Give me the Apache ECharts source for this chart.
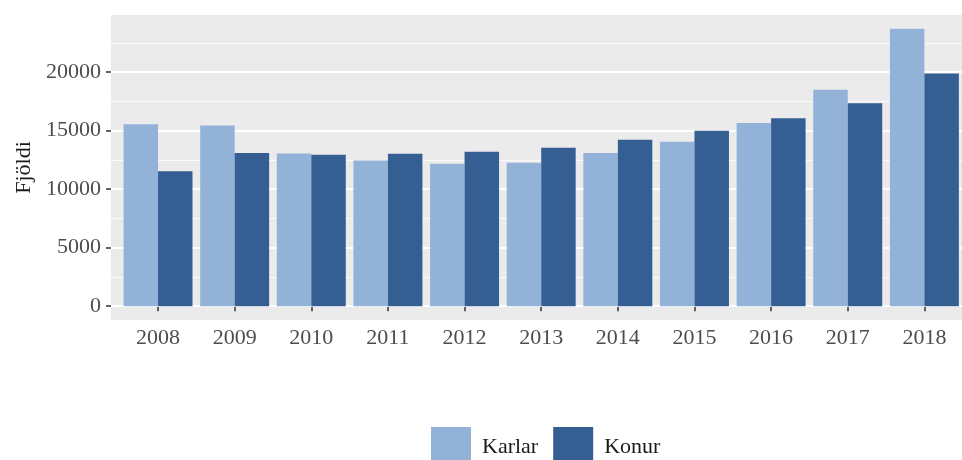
<!DOCTYPE html>
<html>
<head>
<meta charset="utf-8">
<script src="https://cdn.jsdelivr.net/npm/echarts@6/dist/echarts.min.js"></script>
<style>
  html, body { margin: 0; padding: 0; background: #fff; }
  #chart { width: 962px; height: 460px; }
</style>
</head>
<body>
<div id="chart"></div>
<script>
// gögn
const years = ["2008", "2009", "2010", "2011", "2012", "2013", "2014", "2015", "2016", "2017", "2018"];
const karlar = [15540, 15450, 13050, 12450, 12160, 12250, 13080, 14050, 15650, 18490, 23700];
const konur = [11540, 13080, 12940, 13020, 13190, 13540, 14220, 15000, 16050, 17340, 19890];
const yTicks = [0, 5000, 10000, 15000, 20000];

const yMax = Math.max(...karlar, ...konur);
const yMin = -0.05 * yMax;
const yTop = 1.05 * yMax;

const font = "Liberation Serif";
const lightBlue = "#93B2D8";
const darkBlue = "#355E92";
const chart = echarts.init(document.getElementById("chart"));

const options = {
  animation: false,
  legend: {
    data: ["Karlar", "Konur"],
    left: 431,
    top: 427,
    padding: 0,
    itemWidth: 40,
    itemHeight: 40,
    itemGap: 15,
    icon: "rect",
    textStyle: { fontFamily: font, fontSize: 22, color: "#1a1a1a", padding: [0, 0, 0, 6] }
  },
  grid: [
    // panel bakgrunnur + y-ás
    { left: 111, right: -9, top: 15, bottom: 140, show: true, backgroundColor: "#EBEBEB", borderWidth: 0, outerBoundsMode: "none" },
    // súlur
    { left: 119.7, width: 843, top: 15, bottom: 140, outerBoundsMode: "none" }
  ],
  xAxis: [
    { gridIndex: 0, type: "value", min: 0, max: 1, show: false },
    {
      gridIndex: 1,
      type: "category",
      data: years,
      axisLine: { show: false },
      axisTick: { show: true, alignWithLabel: true, length: 5, lineStyle: { color: "#333", width: 1.5 } },
      axisLabel: { fontFamily: font, fontSize: 22, color: "#4d4d4d", margin: 7 }
    }
  ],
  yAxis: [
    {
      gridIndex: 0,
      type: "value",
      min: yMin,
      max: yTop,
      name: "Fjöldi",
      nameLocation: "middle",
      nameGap: 75,
      nameRotate: 90,
      nameTextStyle: { fontFamily: font, fontSize: 22, color: "#1a1a1a" },
      axisLine: { show: false },
      axisTick: { show: true, length: 5, customValues: yTicks, lineStyle: { color: "#333", width: 1.5 } },
      axisLabel: {
        show: true,
        customValues: yTicks,
        margin: 10,
        formatter: v => String(v),
        fontFamily: font,
        fontSize: 22,
        color: "#4d4d4d"
      },
      splitLine: { show: false }
    },
    {
      gridIndex: 1,
      type: "value",
      min: yMin,
      max: yTop,
      show: false
    }
  ],
  series: [
    // stórar hnitalínur
    {
      type: "line",
      xAxisIndex: 0,
      yAxisIndex: 0,
      data: [],
      silent: true,
      z: 1,
      markLine: {
        silent: true,
        symbol: "none",
        label: { show: false },
        lineStyle: { color: "#ffffff", width: 1.8, type: "solid" },
        data: yTicks.map(v => ({ yAxis: v }))
      }
    },
    // minni hnitalínur
    {
      type: "line",
      xAxisIndex: 0,
      yAxisIndex: 0,
      data: [],
      silent: true,
      z: 1,
      markLine: {
        silent: true,
        symbol: "none",
        label: { show: false },
        lineStyle: { color: "#ffffff", width: 0.8, type: "solid" },
        data: yTicks.map(v => ({ yAxis: v + 2500 }))
      }
    },
    {
      name: "Karlar",
      type: "bar",
      xAxisIndex: 1,
      yAxisIndex: 1,
      z: 5,
      data: karlar,
      itemStyle: { color: lightBlue },
      barGap: "0%",
      barCategoryGap: "10%"
    },
    {
      name: "Konur",
      type: "bar",
      xAxisIndex: 1,
      yAxisIndex: 1,
      z: 5,
      data: konur,
      itemStyle: { color: darkBlue },
      barGap: "0%",
      barCategoryGap: "10%"
    }
  ]
};

chart.setOption(options);
</script>
</body>
</html>
